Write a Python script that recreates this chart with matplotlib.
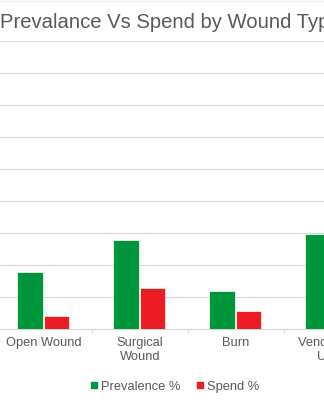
import matplotlib.pyplot as plt
import numpy as np
from matplotlib.lines import Line2D

# data (grid step assumed to be 5)
categories = ["Open Wound", "Surgical\nWound", "Burn", "Venous Leg\nUlcer"]
prevalence = [8.9, 13.9, 5.9, 14.9]
spend = [2.0, 6.4, 2.8, 9.0]
series_names = ["Prevalence %", "Spend %"]

GREEN = "#00963B"
RED = "#ED1C24"
GRID = "#D9D9D9"
TEXT = "#595959"

plt.rcParams["font.family"] = ["Liberation Sans", "DejaVu Sans"]

W, H = 324, 400
fig = plt.figure(figsize=(W / 100, H / 100), dpi=100)

# the visible area is a crop of a wider chart, so the axes run past the figure edges
left_px, top_px, base_px, cat_px = -4.3, 41, 329, 96
ax = fig.add_axes([left_px / W, (H - base_px) / H,
                   cat_px * len(categories) / W, (base_px - top_px) / H])

x = np.arange(len(categories))
ax.bar(x - 0.145, prevalence, width=0.265, color=GREEN, edgecolor="white", linewidth=0.5, zorder=3)
ax.bar(x + 0.135, spend, width=0.265, color=RED, edgecolor="white", linewidth=0.5, zorder=3)

ax.set_xlim(-0.5, len(categories) - 0.5)
ax.set_ylim(0, 45)
ax.set_yticks(np.arange(0, 46, 5))
ax.yaxis.grid(True, color=GRID, linewidth=0.8, zorder=0)
ax.tick_params(axis="y", left=False, labelleft=False)

ax.set_xticks(x)
ax.set_xticklabels(categories, fontsize=9.3, color=TEXT, linespacing=1.2)
ax.set_xticks(x[:-1] + 0.5, minor=True)
ax.tick_params(axis="x", which="major", length=0, pad=5.8)
ax.tick_params(axis="x", which="minor", length=3, width=0.8, color=GRID)

for side in ["left", "right", "top"]:
    ax.spines[side].set_visible(False)
ax.spines["bottom"].set_color(GRID)
ax.spines["bottom"].set_linewidth(0.8)

fig.text(0.0, 1 - 27.5 / H, "Prevalance Vs Spend by Wound Type", fontsize=14.6,
         color=TEXT, ha="left", va="baseline")

handles = [Line2D([], [], marker="s", linestyle="none", markersize=4.3, color=c)
           for c in (GREEN, RED)]
fig.legend(handles, series_names, loc="center", bbox_to_anchor=(175 / W, 1 - 386.5 / H),
           ncol=2, frameon=False, fontsize=9.3, labelcolor=TEXT, handlelength=0.5,
           handletextpad=0.3, columnspacing=1.2, borderpad=0)

fig.add_artist(Line2D([0, 1], [1 - 0.5 / H, 1 - 0.5 / H], color="#EEEEEE", linewidth=0.8))

fig.savefig("out.png", dpi=100)
